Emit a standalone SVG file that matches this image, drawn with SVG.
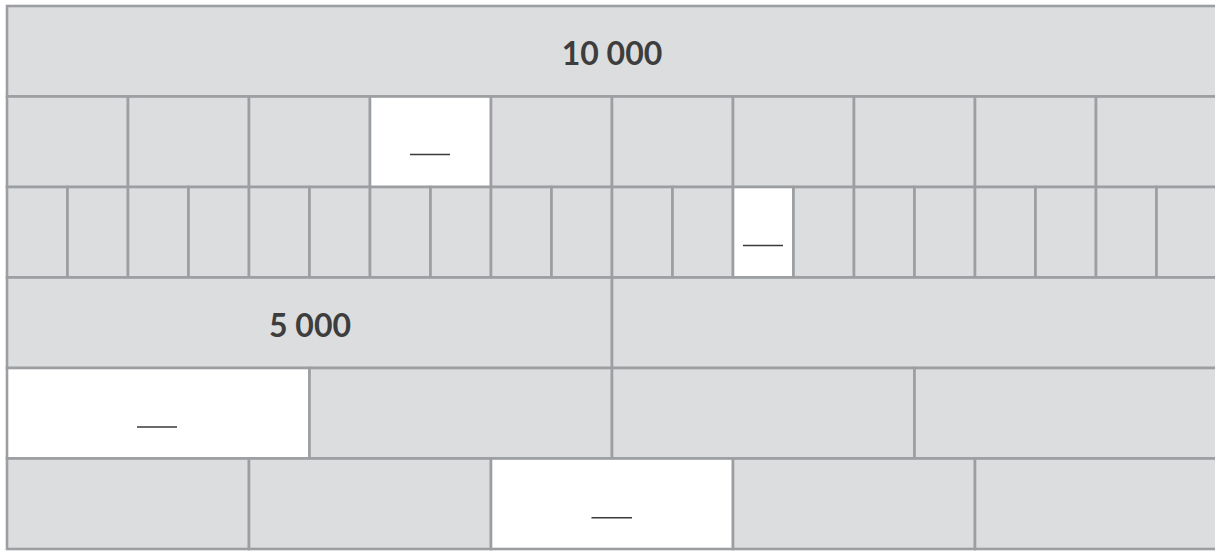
<svg xmlns="http://www.w3.org/2000/svg" width="1215" height="551" viewBox="0 0 1215 551">
<style>
.c{fill:#dcdddf;stroke:#9c9ea1;stroke-width:2.6}
.w{fill:#ffffff;stroke:#9c9ea1;stroke-width:2.6}
.b{stroke:#3a3a3a;stroke-width:1.6}
.t{font-family:Lato,"Open Sans",sans-serif;font-weight:bold;font-size:32px;fill:#3d3d3d;text-anchor:middle}
</style>
<rect width="1215" height="551" fill="#ffffff"/>
<g id="row1"><rect class="c" x="7" y="6" width="1210" height="90.5"/></g>
<g id="row2">
<rect class="c" x="7" y="96.5" width="121" height="90.5"/>
<rect class="c" x="128" y="96.5" width="121" height="90.5"/>
<rect class="c" x="249" y="96.5" width="121" height="90.5"/>
<rect class="w" x="370" y="96.5" width="121" height="90.5"/>
<rect class="c" x="491" y="96.5" width="121" height="90.5"/>
<rect class="c" x="612" y="96.5" width="121" height="90.5"/>
<rect class="c" x="733" y="96.5" width="121" height="90.5"/>
<rect class="c" x="854" y="96.5" width="121" height="90.5"/>
<rect class="c" x="975" y="96.5" width="121" height="90.5"/>
<rect class="c" x="1096" y="96.5" width="121" height="90.5"/>
</g>
<g id="row3">
<rect class="c" x="7" y="187" width="60.5" height="90.5"/>
<rect class="c" x="67.5" y="187" width="60.5" height="90.5"/>
<rect class="c" x="128" y="187" width="60.5" height="90.5"/>
<rect class="c" x="188.5" y="187" width="60.5" height="90.5"/>
<rect class="c" x="249" y="187" width="60.5" height="90.5"/>
<rect class="c" x="309.5" y="187" width="60.5" height="90.5"/>
<rect class="c" x="370" y="187" width="60.5" height="90.5"/>
<rect class="c" x="430.5" y="187" width="60.5" height="90.5"/>
<rect class="c" x="491" y="187" width="60.5" height="90.5"/>
<rect class="c" x="551.5" y="187" width="60.5" height="90.5"/>
<rect class="c" x="612" y="187" width="60.5" height="90.5"/>
<rect class="c" x="672.5" y="187" width="60.5" height="90.5"/>
<rect class="w" x="733" y="187" width="60.5" height="90.5"/>
<rect class="c" x="793.5" y="187" width="60.5" height="90.5"/>
<rect class="c" x="854" y="187" width="60.5" height="90.5"/>
<rect class="c" x="914.5" y="187" width="60.5" height="90.5"/>
<rect class="c" x="975" y="187" width="60.5" height="90.5"/>
<rect class="c" x="1035.5" y="187" width="60.5" height="90.5"/>
<rect class="c" x="1096" y="187" width="60.5" height="90.5"/>
<rect class="c" x="1156.5" y="187" width="60.5" height="90.5"/>
</g>
<g id="row4">
<rect class="c" x="7" y="277.5" width="605" height="90.5"/>
<rect class="c" x="612" y="277.5" width="605" height="90.5"/>
</g>
<g id="row5">
<rect class="w" x="7" y="368" width="302.5" height="90.5"/>
<rect class="c" x="309.5" y="368" width="302.5" height="90.5"/>
<rect class="c" x="612" y="368" width="302.5" height="90.5"/>
<rect class="c" x="914.5" y="368" width="302.5" height="90.5"/>
</g>
<g id="row6">
<rect class="c" x="7" y="458.5" width="242" height="90.5"/>
<rect class="c" x="249" y="458.5" width="242" height="90.5"/>
<rect class="w" x="491" y="458.5" width="242" height="90.5"/>
<rect class="c" x="733" y="458.5" width="242" height="90.5"/>
<rect class="c" x="975" y="458.5" width="242" height="90.5"/>
</g>
<g id="blanks">
<line class="b" x1="410" y1="154.5" x2="450" y2="154.5"/>
<line class="b" x1="743" y1="245.5" x2="783" y2="245.5"/>
<line class="b" x1="137" y1="427" x2="177" y2="427"/>
<line class="b" x1="591.5" y1="517.8" x2="632" y2="517.8"/>
</g>
<g id="labels">
<text class="t" x="612" y="65">10 000</text>
<text class="t" x="310" y="337">5 000</text>
</g>
</svg>
